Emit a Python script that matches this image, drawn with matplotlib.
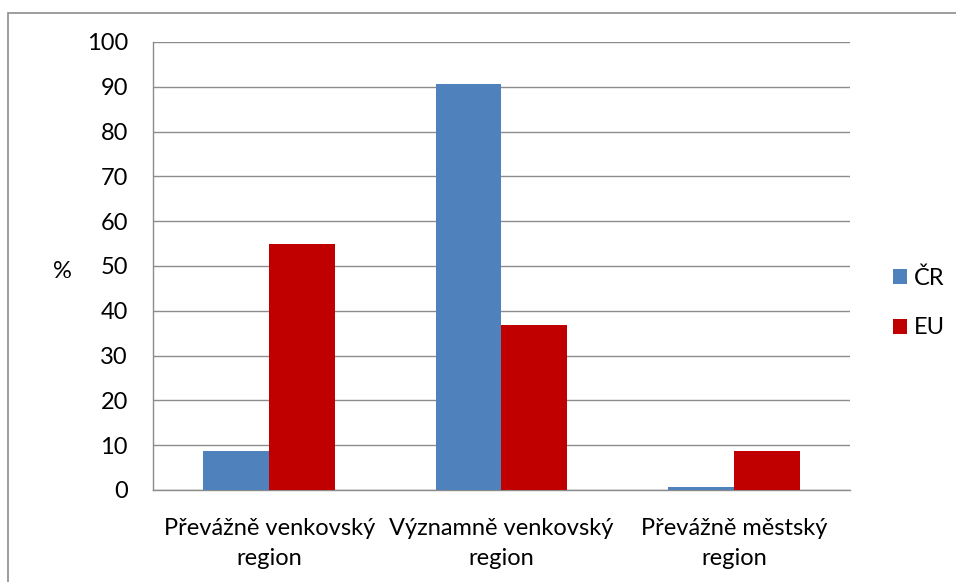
import matplotlib
matplotlib.use('Agg')
import matplotlib.pyplot as plt
from matplotlib.patches import Rectangle
import numpy as np

plt.rcParams['font.family'] = ['Lato', 'DejaVu Sans']

categories = ['Převážně venkovský\nregion', 'Významně venkovský\nregion', 'Převážně městský\nregion']
cr_values = [8.7, 90.6, 0.7]
eu_values = [54.8, 36.8, 8.7]
series_names = ['ČR', 'EU']
colors = ['#4F81BD', '#C00000']

fs = 17

fig = plt.figure(figsize=(9.56, 5.82), dpi=100)
ax = fig.add_axes([153 / 956, 1 - 490 / 582, 697 / 956, 448 / 582])

x = np.arange(len(categories))
w = 0.284
b1 = ax.bar(x - w / 2, cr_values, w, color=colors[0], label=series_names[0], zorder=3)
b2 = ax.bar(x + w / 2, eu_values, w, color=colors[1], label=series_names[1], zorder=3)

ax.set_xlim(-0.5, 2.5)
ax.set_ylim(0, 100)
ax.set_yticks(np.arange(0, 101, 10))
ax.yaxis.grid(True, color='#8c8c8c', linewidth=1.0, zorder=0)
for s in ['top', 'right']:
    ax.spines[s].set_visible(False)
for s in ['left', 'bottom']:
    ax.spines[s].set_color('#8c8c8c')
    ax.spines[s].set_linewidth(1.0)
ax.tick_params(axis='y', length=0, pad=18, labelsize=fs, colors='#000000')
ax.tick_params(axis='x', length=0, pad=20, labelsize=fs)
ax.set_xticks(x)
ax.set_xticklabels(categories, linespacing=1.55)

fig.text(62 / 956, 1 - 271 / 582, '%', fontsize=fs, ha='center', va='center')

leg = fig.legend(handles=[b1, b2], labels=series_names, loc='center left',
                 bbox_to_anchor=(881 / 956, 1 - 303 / 582), frameon=False,
                 fontsize=fs, handlelength=0.6, handleheight=0.6,
                 handletextpad=0.3, labelspacing=1.2, borderpad=0)

# outer chart frame
fig.patches.append(Rectangle((8 / 956, -0.05), 1.1, 1 - 13 / 582 + 0.05,
                             transform=fig.transFigure, fill=False,
                             edgecolor='#8c8c8c', linewidth=1.2))

fig.savefig('out.png', dpi=100)
